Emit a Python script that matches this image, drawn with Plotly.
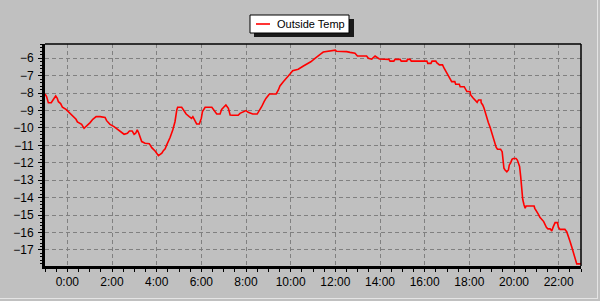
import plotly.graph_objects as go

# Time of day in hours (-1 = 23:00 of previous day) and outside temperature
hours = [-1.0, -0.93, -0.85, -0.72, -0.62, -0.52, -0.45, -0.4, -0.3, -0.22, -0.06, 0.09, 0.27, 0.39, 0.45,
         0.64, 0.75, 0.87, 1.02, 1.14, 1.29, 1.47, 1.69, 1.76, 1.91, 2.09, 2.24, 2.39, 2.54, 2.69, 2.78,
         2.9, 2.99, 3.06, 3.13, 3.2, 3.29, 3.33, 3.48, 3.67, 3.78, 3.93, 4.08, 4.23, 4.3, 4.38, 4.45,
         4.6, 4.72, 4.82, 4.9, 4.94, 5.12, 5.22, 5.32, 5.46, 5.56, 5.62, 5.72, 5.79, 5.91, 6.0, 6.05,
         6.17, 6.47, 6.57, 6.69, 6.84, 6.91, 7.0, 7.1, 7.21, 7.29, 7.4, 7.65, 7.73, 7.85, 8.0, 8.1,
         8.3, 8.5, 8.6, 8.7, 8.81, 8.9, 9.05, 9.35, 9.45, 9.52, 9.67, 9.82, 9.97, 10.09, 10.34, 10.57,
         10.72, 10.9, 11.09, 11.2, 11.35, 11.46, 11.91, 12.0, 12.05, 12.2, 12.51, 12.66, 12.88, 12.99,
         13.4, 13.48, 13.63, 13.78, 13.9, 13.97, 14.4, 14.45, 14.62, 14.67, 14.9, 14.95, 15.2, 15.23,
         15.35, 15.4, 16.1, 16.14, 16.28, 16.33, 16.5, 16.54, 16.66, 16.8, 16.87, 16.96, 17.06, 17.14,
         17.21, 17.35, 17.39, 17.55, 17.59, 17.77, 17.81, 17.89, 18.03, 18.06, 18.16, 18.26, 18.35,
         18.41, 18.52, 18.53, 18.6, 18.66, 18.71, 18.78, 18.85, 18.93, 19.0, 19.08, 19.15, 19.2, 19.26,
         19.4, 19.47, 19.5, 19.55, 19.6, 19.68, 19.75, 19.79, 19.85, 19.91, 19.97, 20.09, 20.15, 20.2,
         20.25, 20.3, 20.35, 20.39, 20.45, 20.5, 20.54, 20.9, 20.93, 21.0, 21.08, 21.16, 21.23, 21.33,
         21.45, 21.52, 21.62, 21.69, 21.76, 21.84, 21.95, 21.99, 22.06, 22.28, 22.36, 22.44, 22.51,
         22.59, 22.66, 22.74, 22.81, 22.94, 23.0]
outside_temp = [-8.05, -8.2, -8.55, -8.55, -8.35, -8.16, -8.3, -8.49, -8.6, -8.81, -8.93, -9.12, -9.29, -9.5, -9.65,
                -9.79, -10.02, -9.88, -9.69, -9.5, -9.35, -9.35, -9.39, -9.58, -9.79, -9.92, -10.07, -10.25, -10.36, -10.3, -10.17,
                -10.17, -10.36, -10.3, -10.11, -10.3, -10.59, -10.78, -10.88, -10.9, -11.13, -11.32, -11.59, -11.45, -11.3, -11.2, -10.97,
                -10.55, -10.11, -9.64, -8.97, -8.81, -8.81, -9.0, -9.2, -9.35, -9.45, -9.35, -9.58, -9.77, -9.77, -9.44, -9.06,
                -8.81, -8.81, -8.97, -9.2, -9.2, -8.93, -8.81, -8.68, -8.87, -9.25, -9.27, -9.27, -9.16, -9.1, -9.0, -9.1,
                -9.2, -9.2, -9.0, -8.78, -8.49, -8.29, -8.05, -8.05, -7.82, -7.59, -7.34, -7.15, -6.9, -6.71, -6.63, -6.44,
                -6.33, -6.2, -6.0, -5.87, -5.75, -5.64, -5.58, -5.53, -5.6, -5.6, -5.62, -5.66, -5.71, -5.87,
                -5.87, -6.0, -6.05, -5.87, -5.95, -6.04, -6.06, -6.16, -6.16, -6.06, -6.06, -6.16, -6.16, -6.06,
                -6.06, -6.16, -6.16, -6.29, -6.29, -6.16, -6.16, -6.25, -6.38, -6.38, -6.57, -6.77, -6.96, -7.2,
                -7.34, -7.34, -7.49, -7.49, -7.63, -7.63, -7.76, -7.91, -7.91, -8.1, -8.26, -8.43, -8.53,
                -8.39, -8.39, -8.55, -8.68, -8.87, -9.1, -9.44, -9.69, -9.96, -10.27, -10.6, -10.85, -11.1, -11.22,
                -11.22, -11.36, -11.74, -12.31, -12.41, -12.51, -12.41, -12.12, -12.0, -11.8, -11.75, -11.75, -11.84, -11.99,
                -12.21, -12.79, -13.56, -14.09, -14.42, -14.61, -14.48, -14.48, -14.61, -14.74, -14.93, -15.12, -15.24, -15.37,
                -15.7, -15.79, -15.79, -15.91, -15.66, -15.43, -15.43, -15.7, -15.82, -15.82, -15.95, -16.2, -16.52,
                -16.85, -17.19, -17.53, -17.8, -17.8, -17.78]

x_tick_vals = [0, 2, 4, 6, 8, 10, 12, 14, 16, 18, 20, 22]
x_tick_text = ["0:00", "2:00", "4:00", "6:00", "8:00", "10:00", "12:00", "14:00", "16:00", "18:00", "20:00", "22:00"]
y_tick_vals = [-6, -7, -8, -9, -10, -11, -12, -13, -14, -15, -16, -17]
series_name = "Outside Temp"

BG = "#C0C0C0"
GRID = "#808080"
FONT = "Liberation Sans, Arial, sans-serif"
LINE_RED = "#FF0000"

# plot area in pixels: left 45, right 581, top 44, bottom 266
L, R, T, B = 45, 581, 44, 266
def px(xp):
    return (xp - L) / (R - L)
def py(yp):
    return (B - yp) / (B - T)

fig = go.Figure()
fig.add_trace(go.Scatter(x=hours, y=outside_temp, mode="lines", name=series_name,
                         line=dict(color=LINE_RED, width=1.6), showlegend=False))

shapes = [
    # top and right frame lines of the plot area
    dict(type="line", xref="paper", yref="paper", x0=0, x1=1, y0=1, y1=1, line=dict(color="black", width=1.5)),
    dict(type="line", xref="paper", yref="paper", x0=1, x1=1, y0=0, y1=1, line=dict(color="black", width=1.5)),
    # light window edge at right and bottom
    dict(type="line", xref="paper", yref="paper", x0=px(0), x1=px(598), y0=py(298.5), y1=py(298.5),
         line=dict(color="#E4E4E4", width=1)),
    dict(type="line", xref="paper", yref="paper", x0=px(597.5), x1=px(597.5), y0=py(0), y1=py(298.5),
         line=dict(color="#E4E4E4", width=1)),
    # legend: drop shadow, box, line sample
    dict(type="rect", xref="paper", yref="paper", x0=px(254), x1=px(354), y0=py(37), y1=py(19),
         fillcolor="#1a1a1a", line=dict(width=0)),
    dict(type="rect", xref="paper", yref="paper", x0=px(250), x1=px(349), y0=py(33), y1=py(15),
         fillcolor="white", line=dict(color="black", width=1)),
    dict(type="line", xref="paper", yref="paper", x0=px(256), x1=px(270), y0=py(24), y1=py(24),
         line=dict(color=LINE_RED, width=1.6)),
]

annotations = [
    dict(text=series_name, xref="paper", yref="paper", x=px(275), y=py(24.5), xanchor="left", yanchor="middle",
         showarrow=False, font=dict(family=FONT, size=11, color="black")),
]

fig.update_layout(
    width=600, height=301,
    margin=dict(l=L, r=600 - R, t=T, b=301 - B),
    paper_bgcolor=BG, plot_bgcolor=BG,
    font=dict(family=FONT, size=12, color="black"),
    showlegend=False,
    xaxis=dict(range=[-1, 23], tickmode="array", tickvals=x_tick_vals, ticktext=x_tick_text,
               showgrid=True, gridcolor=GRID, griddash="4px,3px", gridwidth=1,
               zeroline=False, showline=True, linecolor="black", linewidth=3,
               ticks="outside", ticklen=3, tickcolor="black", tickwidth=1,
               minor=dict(dtick=0.5, tick0=0, ticklen=3, tickcolor="black", ticks="outside", showgrid=False),
               tickfont=dict(size=12)),
    yaxis=dict(range=[-17.92, -5.18], tickmode="array", tickvals=y_tick_vals,
               showgrid=True, gridcolor=GRID, griddash="4px,3px", gridwidth=1,
               zeroline=False, showline=True, linecolor="black", linewidth=3,
               ticks="outside", ticklen=4, tickcolor="black", tickwidth=1,
               minor=dict(dtick=0.2, tick0=0, ticklen=2, tickcolor="black", ticks="outside", showgrid=False),
               tickfont=dict(size=12), ticklabelstandoff=2),
    shapes=shapes,
    annotations=annotations,
)

fig.write_html("out.html")
